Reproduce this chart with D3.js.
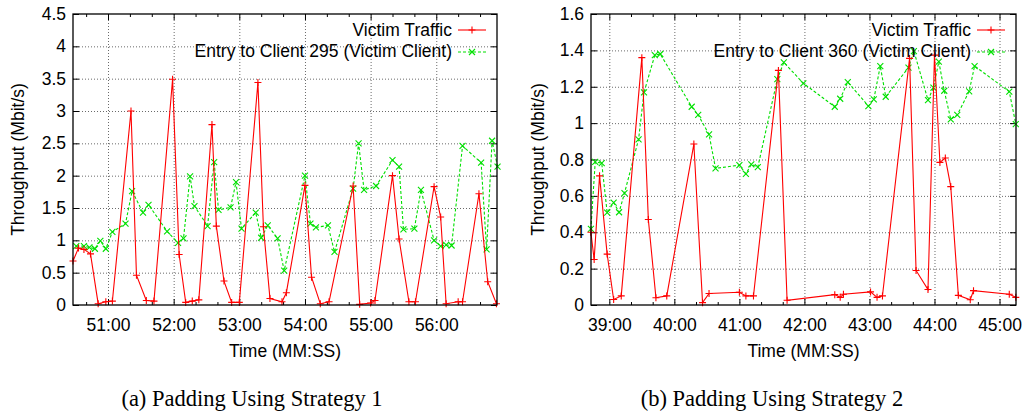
<!DOCTYPE html>
<html>
<head>
<meta charset="UTF-8">
<title>Padding strategies</title>
<style>
body { margin: 0; background: #fff; }
svg { display: block; }
.tick text { font-family: "Liberation Sans", Arial, sans-serif; font-size: 17.5px; fill: #000; }
.grid line { stroke: #444; stroke-dasharray: 1,2; stroke-width: 0.8; }
.grid path, .mirror path { display: none; }
.frame { fill: none; stroke: #000; stroke-width: 1.3; }
.lbl { font-family: "Liberation Sans", Arial, sans-serif; font-size: 17.5px; fill: #000; }
.cap { font-family: "Liberation Serif", "Times New Roman", serif; font-size: 22.5px; fill: #000; }
</style>
<script src="https://d3js.org/d3.v7.min.js"></script>
</head>
<body>
<script>
// ---- panel (a): strategy 1 ----
var victimA_time = ["50:28","50:33","50:38","50:44","50:51","50:58","51:04","51:21","51:26","51:35","51:42","51:59",
  "52:05","52:11","52:17","52:23","52:35","52:39","52:46","52:53","53:00","53:17","53:22","53:28","53:39","53:43",
  "54:00","54:06","54:14","54:22","54:44","54:50","55:00","55:04","55:20","55:26","55:35","55:41","55:58","56:04",
  "56:09","56:20","56:24","56:39","56:47","56:55"];
var victimA_mbit = [0.68,0.88,0.86,0.79,0.02,0.05,0.06,3.0,0.46,0.07,0.06,3.49,
  0.78,0.04,0.06,0.08,2.79,1.22,0.37,0.04,0.04,3.44,1.21,0.10,0.05,0.19,
  1.85,0.43,0.02,0.05,1.84,0.01,0.03,0.07,2.0,1.02,0.05,0.05,1.83,1.36,
  0.02,0.05,0.05,1.72,0.36,0.02];
var clientA_time = ["50:31","50:38","50:43","50:48","50:53","50:58","51:04","51:16","51:22","51:32","51:37","51:54",
  "52:04","52:09","52:15","52:19","52:31","52:37","52:41","52:52","52:57","53:02","53:15","53:20","53:26","53:35",
  "53:41","54:00","54:05","54:10","54:21","54:27","54:44","54:49","54:54","55:05","55:20","55:26","55:30","55:40",
  "55:46","55:58","56:04","56:09","56:14","56:24","56:41","56:46","56:51","56:56"];
var clientA_mbit = [0.91,0.91,0.89,0.87,0.99,0.87,1.13,1.26,1.76,1.43,1.55,1.14,
  0.96,1.03,1.99,1.53,1.22,2.21,1.47,1.51,1.90,1.18,1.43,1.04,1.23,1.03,
  0.53,2.0,1.26,1.20,1.23,0.82,1.80,2.50,1.78,1.84,2.24,2.14,1.17,1.18,
  1.78,1.0,0.91,0.93,0.92,2.46,2.2,0.86,2.54,2.14];
var xTicksA = ["51:00","52:00","53:00","54:00","55:00","56:00"];
var yTicksA = [0,0.5,1,1.5,2,2.5,3,3.5,4,4.5];

// ---- panel (b): strategy 2 ----
var victimB_time = ["38:43","38:46","38:51","38:58","39:04","39:11","39:30","39:36","39:43","39:53","40:18","40:26",
  "40:32","41:00","41:06","41:13","41:36","41:44","42:28","42:33","42:36","43:01","43:07","43:12","43:37","43:43",
  "43:54","44:00","44:05","44:10","44:15","44:22","44:33","44:36","45:09","45:15"];
var victimB_mbit = [0.40,0.25,0.71,0.28,0.03,0.05,1.36,0.47,0.04,0.05,0.885,0.013,
  0.063,0.07,0.05,0.05,1.29,0.026,0.057,0.042,0.059,0.072,0.042,0.05,1.356,0.19,
  0.085,1.374,0.784,0.808,0.651,0.053,0.029,0.079,0.059,0.042];
var clientB_time = ["38:43","38:47","38:53","38:58","39:04","39:09","39:14","39:27","39:32","39:42","39:47","40:16",
  "40:22","40:32","40:38","41:00","41:06","41:11","41:17","41:35","41:41","41:59","42:28","42:33","42:40","42:59",
  "43:04","43:10","43:15","43:36","43:41","43:54","43:59","44:04","44:09","44:15","44:21","44:32","44:37","45:09","45:15"];
var clientB_mbit = [0.418,0.787,0.78,0.508,0.563,0.51,0.615,0.911,1.169,1.374,1.38,1.09,
  1.045,0.938,0.751,0.769,0.721,0.773,0.758,1.242,1.334,1.219,1.09,1.134,1.226,1.094,
  1.131,1.314,1.145,1.305,1.396,1.127,1.195,1.338,1.178,1.021,1.045,1.175,1.314,1.173,0.995];
var xTicksB = ["39:00","40:00","41:00","42:00","43:00","44:00","45:00"];
var yTicksB = [0,0.2,0.4,0.6,0.8,1,1.2,1.4,1.6];

function toSec(s) { var p = s.split(":"); return +p[0] * 60 + +p[1]; }

var svg = d3.select("body").append("svg")
  .attr("width", 1024).attr("height", 418);
svg.append("rect").attr("width", 1024).attr("height", 418).attr("fill", "#fff");

var plusPath = "M-3.5,0H3.5M0,-3.5V3.5";
var crossPath = "M-3,-3L3,3M-3,3L3,-3";

function panel(o) {
  var width = o.right - o.left, height = o.bottom - o.top;
  var x = d3.scaleLinear().domain([toSec(o.xmin), toSec(o.xmax)]).range([0, width]);
  var y = d3.scaleLinear().domain([0, o.yTicks[o.yTicks.length - 1]]).range([height, 0]);
  var g = svg.append("g").attr("transform", "translate(" + o.left + "," + o.top + ")");

  var major = o.xTicks.map(toSec);
  var minor = d3.range(Math.ceil(x.domain()[0] / 20) * 20, x.domain()[1], 20)
    .filter(function(s) { return s % 60 != 0; });

  // grid
  g.append("g").attr("class", "grid")
    .call(d3.axisBottom(x).tickValues(major).tickSize(height).tickFormat(""));
  g.append("g").attr("class", "grid")
    .call(d3.axisLeft(y).tickValues(o.yTicks.slice(1, -1)).tickSize(-width).tickFormat(""));

  // axes with inward ticks
  var xa = g.append("g").attr("transform", "translate(0," + height + ")")
    .call(d3.axisBottom(x).tickValues(major).tickSize(-6).tickPadding(14)
      .tickFormat(function(d, i) { return o.xTicks[i]; }));
  xa.select(".domain").remove();
  g.append("g").attr("transform", "translate(0," + height + ")").attr("class", "mirror")
    .call(d3.axisBottom(x).tickValues(minor).tickSize(-3).tickFormat(""));
  g.append("g").attr("class", "mirror")
    .call(d3.axisTop(x).tickValues(major).tickSize(-6).tickFormat(""));
  g.append("g").attr("class", "mirror")
    .call(d3.axisTop(x).tickValues(minor).tickSize(-3).tickFormat(""));
  var ya = g.append("g")
    .call(d3.axisLeft(y).tickValues(o.yTicks).tickSize(-6).tickPadding(7)
      .tickFormat(function(d) { return String(d); }));
  ya.select(".domain").remove();
  g.append("g").attr("transform", "translate(" + width + ",0)").attr("class", "mirror")
    .call(d3.axisRight(y).tickValues(o.yTicks).tickSize(-6).tickFormat(""));
  g.selectAll(".tick line").filter(function() { return !this.parentNode.parentNode.classList.contains("grid"); })
    .attr("stroke", "#000");
  g.selectAll(".tick text").attr("font-family", null).attr("font-size", null);

  // series
  var victim = o.vTime.map(function(t, i) { return [toSec(t), o.vVal[i]]; });
  var client = o.cTime.map(function(t, i) { return [toSec(t), o.cVal[i]]; });
  var line = d3.line().x(function(d) { return x(d[0]); }).y(function(d) { return y(d[1]); });

  g.append("path").datum(client).attr("d", line)
    .attr("fill", "none").attr("stroke", "#00e000").attr("stroke-width", 1.1)
    .attr("stroke-dasharray", "3,2");
  g.selectAll(".cpt").data(client).enter().append("path")
    .attr("transform", function(d) { return "translate(" + x(d[0]) + "," + y(d[1]) + ")"; })
    .attr("d", crossPath).attr("stroke", "#00e000").attr("stroke-width", 1.1).attr("fill", "none");

  g.append("path").datum(victim).attr("d", line)
    .attr("fill", "none").attr("stroke", "#ff0000").attr("stroke-width", 1.1);
  g.selectAll(".vpt").data(victim).enter().append("path")
    .attr("transform", function(d) { return "translate(" + x(d[0]) + "," + y(d[1]) + ")"; })
    .attr("d", plusPath).attr("stroke", "#ff0000").attr("stroke-width", 1.1).attr("fill", "none");

  // frame
  g.append("rect").attr("class", "frame").attr("width", width).attr("height", height);

  // legend
  var lx = width - 45;
  g.append("text").attr("class", "lbl").attr("x", lx).attr("y", 22).attr("text-anchor", "end").text("Victim Traffic");
  g.append("line").attr("x1", lx + 6).attr("x2", lx + 34).attr("y1", 16).attr("y2", 16)
    .attr("stroke", "#ff0000").attr("stroke-width", 1.1);
  g.append("path").attr("transform", "translate(" + (lx + 20) + ",16)").attr("d", plusPath)
    .attr("stroke", "#ff0000").attr("stroke-width", 1.1);
  g.append("text").attr("class", "lbl").attr("x", lx).attr("y", 43).attr("text-anchor", "end").text(o.clientName);
  g.append("line").attr("x1", lx + 6).attr("x2", lx + 34).attr("y1", 38).attr("y2", 38)
    .attr("stroke", "#00e000").attr("stroke-width", 1.1).attr("stroke-dasharray", "3,2");
  g.append("path").attr("transform", "translate(" + (lx + 20) + ",38)").attr("d", crossPath)
    .attr("stroke", "#00e000").attr("stroke-width", 1.1);

  // axis titles
  svg.append("text").attr("class", "lbl").attr("text-anchor", "middle")
    .attr("transform", "translate(" + o.ylabX + "," + ((o.top + o.bottom) / 2) + ") rotate(-90)")
    .text("Throughput (Mbit/s)");
  svg.append("text").attr("class", "lbl").attr("text-anchor", "middle")
    .attr("x", (o.left + o.right) / 2).attr("y", 357).text("Time (MM:SS)");
  svg.append("text").attr("class", "cap").attr("text-anchor", "middle")
    .attr("x", o.capX).attr("y", 406).text(o.caption);
}

panel({ left: 73, right: 497, top: 14, bottom: 305, xmin: "50:28", xmax: "56:55.5",
  xTicks: xTicksA, yTicks: yTicksA, vTime: victimA_time, vVal: victimA_mbit,
  cTime: clientA_time, cVal: clientA_mbit, clientName: "Entry to Client 295 (Victim Client)",
  ylabX: 24, capX: 252, caption: "(a) Padding Using Strategy 1" });
panel({ left: 591, right: 1016, top: 14, bottom: 305, xmin: "38:43.1", xmax: "45:15.2",
  xTicks: xTicksB, yTicks: yTicksB, vTime: victimB_time, vVal: victimB_mbit,
  cTime: clientB_time, cVal: clientB_mbit, clientName: "Entry to Client 360 (Victim Client)",
  ylabX: 544, capX: 772, caption: "(b) Padding Using Strategy 2" });
</script>
</body>
</html>
